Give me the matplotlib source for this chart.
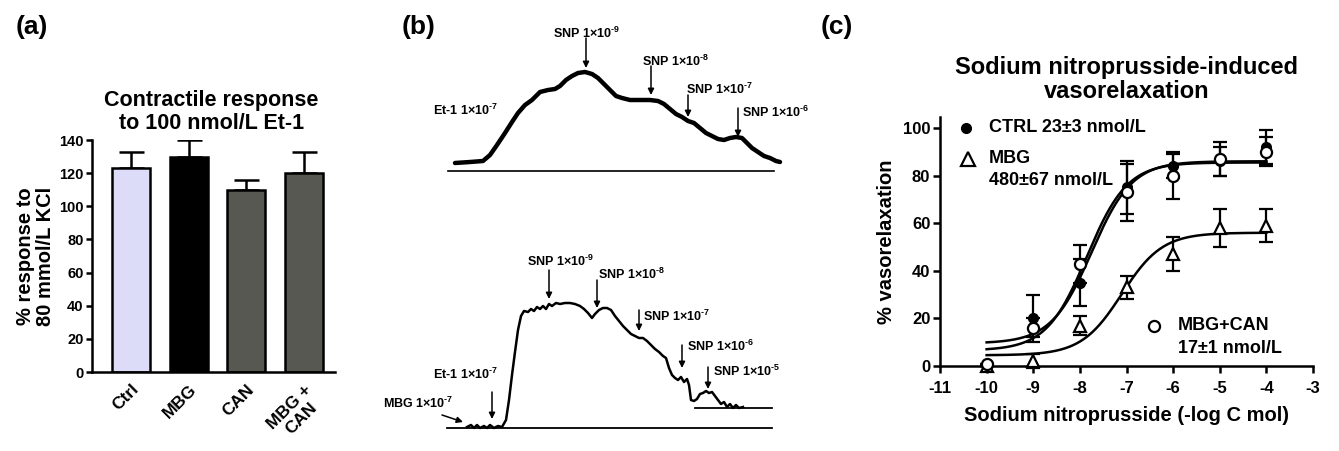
import numpy as np
import matplotlib
matplotlib.use("Agg")
import matplotlib.pyplot as plt

plt.rcParams['font.family'] = ['Liberation Sans', 'DejaVu Sans']
plt.rcParams['font.weight'] = 'bold'
plt.rcParams['axes.unicode_minus'] = False
plt.rcParams['mathtext.fontset'] = 'custom'
plt.rcParams['mathtext.rm'] = 'Liberation Sans:bold'
plt.rcParams['mathtext.bf'] = 'Liberation Sans:bold'
plt.rcParams['mathtext.it'] = 'Liberation Sans:bold'

# ---------------- data ----------------
# (a) contractile response
bar_labels = ["Ctrl", "MBG", "CAN", "MBG +\nCAN"]
bar_values = [123, 130, 110, 120]
bar_errors = [10, 10, 6, 13]
bar_colors = ["#dcdcf8", "#000000", "#585852", "#585852"]

# (b) tension traces (time in px units, tension in px units, y downward)
top_t = [455, 470, 483, 490, 497, 505, 512, 518, 525, 532, 540, 548, 555, 560, 566, 572, 578, 585,
         592, 598, 604, 610, 616, 622, 630, 640, 650, 658, 664, 670, 676, 682, 688, 694, 700, 706,
         712, 718, 724, 730, 736, 742, 746, 752, 758, 764, 770, 776, 780]
top_y = [163, 162, 161, 155, 145, 133, 122, 113, 105, 100, 92, 90, 89, 86, 80, 76, 73, 72,
         74, 78, 84, 90, 96, 98, 100, 100, 100, 101, 104, 109, 114, 117, 121, 123, 128, 133,
         136, 139, 140, 138, 137, 138, 142, 148, 152, 156, 158, 161, 162]
bot_t = [467, 471, 474, 477, 480, 484, 487, 490, 494, 498, 502, 506, 509, 512, 515, 518, 521, 524,
         528, 531, 534, 537, 540, 543, 546, 549, 552, 556, 560, 565, 570, 575, 580, 584, 588, 592,
         595, 599, 603, 607, 611, 615, 619, 623, 627, 631, 635, 639, 643, 647, 651, 655, 659, 663,
         666, 669, 672, 675, 678, 681, 684, 687, 689, 691, 694, 697, 700, 703, 706, 709, 712, 715,
         718, 721, 724, 727, 730, 733, 736, 739, 743]
bot_y = [427, 425, 428, 425, 428, 426, 428, 425, 428, 426, 427, 420, 400, 375, 352, 330, 316, 311,
         312, 309, 311, 307, 309, 306, 309, 304, 306, 303, 304, 303, 303, 304, 306, 309, 313, 318,
         314, 310, 308, 308, 310, 316, 321, 326, 330, 334, 336, 338, 338, 341, 345, 349, 352, 356,
         358, 368, 375, 378, 380, 377, 382, 379, 385, 400, 401, 399, 394, 393, 391, 393, 392, 396,
         400, 404, 402, 407, 404, 408, 405, 408, 407]

# (c) SNP-induced vasorelaxation
log_conc = [-10, -9, -8, -7, -6, -5, -4]
ctrl_mean = [0, 20, 35, 75, 84, 86, 92]
ctrl_err = [0, 10, 10, 11, 5, 6, 7]
mbg_mean = [0, 2, 17, 33, 47, 58, 59]
mbg_err = [0, 3, 4, 5, 7, 8, 7]
mbgcan_mean = [1, 16, 43, 73, 80, 87, 90]
mbgcan_err = [0, 4, 8, 12, 10, 7, 6]
# fitted sigmoid parameters: bottom, top, logEC50, hill
ctrl_fit = (9.5, 86, -7.75, 1.0)
mbg_fit = (4.5, 56, -7.1, 1.0)
mbgcan_fit = (6.5, 85.5, -7.85, 1.0)

# ---------------- figure ----------------
W, H = 1339, 451
fig = plt.figure(figsize=(W / 100, H / 100), dpi=100)

def px_axes(x0, y0, x1, y1):
    return fig.add_axes([x0 / W, 1 - y1 / H, (x1 - x0) / W, (y1 - y0) / H])

def style_axes(ax, lsize):
    for s in ['top', 'right']:
        ax.spines[s].set_visible(False)
    for s in ['left', 'bottom']:
        ax.spines[s].set_linewidth(1.8)
    ax.tick_params(width=1.8, length=4, direction='out', labelsize=lsize, pad=2)
    for lab in ax.get_xticklabels() + ax.get_yticklabels():
        lab.set_fontweight('bold')

# panel letters
for x, lab in [(16, "(a)"), (402, "(b)"), (821, "(c)")]:
    fig.text(x / W, 1 - 27 / H, lab, fontsize=19, fontweight='bold', va='center', ha='left')

# ---- (a)
axa = px_axes(92, 140, 335, 372)
pos = np.arange(len(bar_values))
axa.bar(pos, bar_values, width=0.66, color=bar_colors, edgecolor='black', linewidth=1.8, zorder=2)
axa.errorbar(pos, bar_values, yerr=[np.zeros(len(bar_errors)), bar_errors], fmt='none',
             ecolor='black', elinewidth=1.8, capsize=9, capthick=1.8, zorder=1)
axa.set_xlim(-0.676, 3.54)
axa.set_ylim(0, 140)
axa.set_yticks(range(0, 141, 20))
axa.set_xticks(pos)
axa.set_xticklabels(bar_labels, rotation=45, ha='right', rotation_mode='anchor', multialignment='center')
style_axes(axa, 10.5)
axa.tick_params(axis='x', length=0, pad=7, labelsize=12.5)
axa.set_ylabel("% response to\n80 mmol/L KCl", fontsize=14.5, fontweight='bold', labelpad=3,
               linespacing=1.05)
axa.set_title("Contractile response\nto 100 nmol/L Et-1", fontsize=15.5, fontweight='bold',
              pad=8, x=0.49, linespacing=1.1)

# ---- (b)
axb = px_axes(370, 0, 800, 451)
axb.set_xlim(370, 800)
axb.set_ylim(451, 0)
axb.axis('off')
axb.plot(top_t, top_y, color='black', lw=3.2, solid_joinstyle='round', solid_capstyle='round')
axb.plot([448, 774], [171, 171], color='black', lw=1.2)
axb.plot(bot_t, bot_y, color='black', lw=1.8, solid_joinstyle='round')
axb.plot([447, 772], [428, 428], color='black', lw=1.3)
axb.plot([695, 772], [408, 408], color='black', lw=1.3)

tfs = 9
def label(x, y, exp, prefix="SNP 1\u00d710", ha='left'):
    axb.text(x, y, prefix + r"$^{\text{" + exp + "}}$", fontsize=tfs, fontweight='bold',
             ha=ha, va='center')

def arrow(x1, y1, x0, y0):
    axb.annotate("", xy=(x1, y1), xytext=(x0, y0),
                 arrowprops=dict(arrowstyle='-|>', color='black', lw=1.1, mutation_scale=9,
                                 shrinkA=0, shrinkB=0))

# top trace labels
label(433, 110, "-7", prefix="Et-1 1\u00d710")
label(586, 33, "-9", ha='center')
arrow(586, 68, 586, 38)
label(642, 61, "-8")
arrow(651, 95, 651, 66)
label(686, 89, "-7")
arrow(688, 117, 688, 95)
label(742, 112, "-6")
arrow(738, 137, 738, 108)

# bottom trace labels
label(383, 403, "-7", prefix="MBG 1\u00d710")
arrow(463, 422, 442, 415)
label(433, 374, "-7", prefix="Et-1 1\u00d710")
arrow(492, 419, 492, 392)
label(527, 261, "-9")
arrow(549, 299, 549, 270)
label(598, 274, "-8")
arrow(597, 308, 597, 280)
label(643, 316, "-7")
arrow(639, 331, 639, 310)
label(687, 346, "-6")
arrow(682, 368, 682, 345)
label(713, 371, "-5")
arrow(708, 389, 708, 367)

# ---- (c)
axc = px_axes(940, 117, 1313, 366)
axc.set_xlim(-11, -3)
axc.set_ylim(0, 104.6)

def sig(x, p):
    b, t, ec, h = p
    return b + (t - b) / (1 + 10 ** ((ec - x) * h))

xs = np.linspace(-10, -4, 300)
for p in (ctrl_fit, mbgcan_fit, mbg_fit):
    axc.plot(xs, sig(xs, p), color='black', lw=1.8, zorder=2)

ekw = dict(fmt='none', ecolor='black', elinewidth=1.6, capsize=5, capthick=1.6, zorder=3, clip_on=False)
axc.errorbar(log_conc, ctrl_mean, yerr=ctrl_err, **ekw)
axc.errorbar(log_conc, mbg_mean, yerr=mbg_err, **ekw)
axc.errorbar(log_conc, mbgcan_mean, yerr=mbgcan_err, **ekw)
axc.plot(log_conc, ctrl_mean, 'o', color='black', ms=7, zorder=4, clip_on=False)
axc.plot(log_conc, mbg_mean, '^', mfc='white', mec='black', mew=1.6, ms=9, zorder=4, clip_on=False)
axc.plot(log_conc, mbgcan_mean, 'o', mfc='white', mec='black', mew=1.6, ms=8, zorder=5, clip_on=False)

axc.set_xticks(range(-11, -2))
axc.set_yticks(range(0, 101, 20))
style_axes(axc, 12)
axc.tick_params(length=5)
axc.tick_params(axis='x', pad=6)
axc.set_xlabel("Sodium nitroprusside (-log C mol)", fontsize=14.5, fontweight='bold', labelpad=7)
axc.set_ylabel("% vasorelaxation", fontsize=14.5, fontweight='bold', labelpad=5)
axc.set_title("Sodium nitroprusside-induced\nvasorelaxation", fontsize=17, fontweight='bold',
              pad=14, x=0.5, linespacing=1.05)

# in-plot legend
lfs = 13
axc.plot([-10.45], [100], 'o', color='black', ms=7, clip_on=False)
axc.text(-9.95, 100, "CTRL 23\u00b13 nmol/L", fontsize=lfs, fontweight='bold', va='center')
axc.plot([-10.4], [87], '^', mfc='white', mec='black', mew=1.6, ms=10, clip_on=False)
axc.text(-9.95, 87, "MBG", fontsize=lfs, fontweight='bold', va='center')
axc.text(-9.95, 78, "480\u00b167 nmol/L", fontsize=lfs, fontweight='bold', va='center')
axc.plot([-6.4], [17], 'o', mfc='white', mec='black', mew=1.6, ms=8, clip_on=False)
axc.text(-5.9, 17, "MBG+CAN", fontsize=lfs, fontweight='bold', va='center')
axc.text(-5.9, 7.5, "17\u00b11 nmol/L", fontsize=lfs, fontweight='bold', va='center')

fig.savefig("out.png", dpi=100)
